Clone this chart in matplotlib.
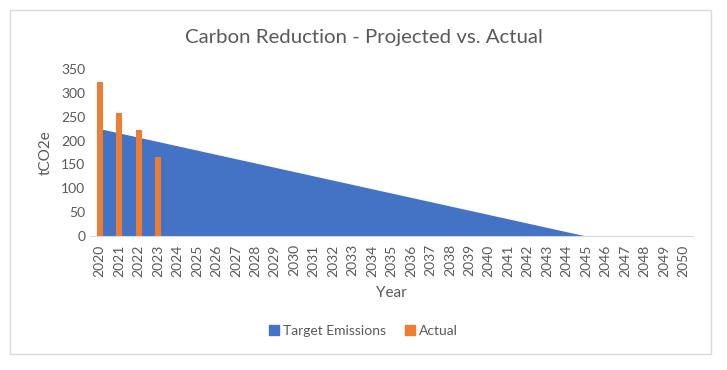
import matplotlib.pyplot as plt
from matplotlib.lines import Line2D
import numpy as np

years = list(range(2020, 2051))
target = [225, 216, 207, 198, 189, 180, 171, 162, 153, 144, 135, 126, 117, 108,
          99, 90, 81, 72, 63, 54, 45, 36, 27, 18, 9, 0, 0, 0, 0, 0, 0]
actual_years = [2020, 2021, 2022, 2023]
actual = [323, 258, 222, 166]

plt.rcParams["font.family"] = ["Lato", "DejaVu Sans"]
gris = "#595959"
azul = "#4472C4"
naranja = "#ED7D31"

fig = plt.figure(figsize=(7.27, 3.70), dpi=100)
ax = fig.add_axes([90 / 727, 134 / 370, 603 / 727, 167 / 370])

x = np.arange(len(years))
ax.fill_between(x, target, 0, color=azul, linewidth=0)
xa = [years.index(a) for a in actual_years]
ax.bar(xa, actual, width=0.3, color=naranja, zorder=3)

ax.set_xlim(-0.5, len(years) - 0.5)
ax.set_ylim(0, 350)
ax.set_yticks(range(0, 351, 50))
ax.set_xticks(x)
ax.set_xticklabels([str(y) for y in years], rotation=90)
ax.tick_params(axis="both", length=0, colors=gris, labelsize=10)
ax.tick_params(axis="x", pad=6)
for s in ["top", "right", "left"]:
    ax.spines[s].set_visible(False)
ax.spines["bottom"].set_color("#D9D9D9")

ax.set_xlabel("Year", color=gris, fontsize=11, labelpad=7)
ax.set_ylabel("tCO2e", color=gris, fontsize=11, labelpad=6)
fig.text(0.5, 1 - 37 / 370, "Carbon Reduction - Projected vs. Actual", ha="center",
         va="center", color=gris, fontsize=14.7)

handles = [Line2D([], [], marker="s", linestyle="none", markersize=7, color=azul,
                  label="Target Emissions"),
           Line2D([], [], marker="s", linestyle="none", markersize=7, color=naranja,
                  label="Actual")]
leg = fig.legend(handles=handles, loc="center", bbox_to_anchor=(0.5, 1 - 331 / 370), ncol=2,
                 frameon=False, fontsize=10, handlelength=0.7, columnspacing=1.4,
                 handletextpad=0.3)
for t in leg.get_texts():
    t.set_color(gris)

rect = plt.Rectangle((10 / 727, 1 - 354 / 370), 701 / 727, 344 / 370, transform=fig.transFigure,
                     fill=False, edgecolor="#D9D9D9", linewidth=1)
fig.patches.append(rect)

fig.savefig("out.png", dpi=100)
